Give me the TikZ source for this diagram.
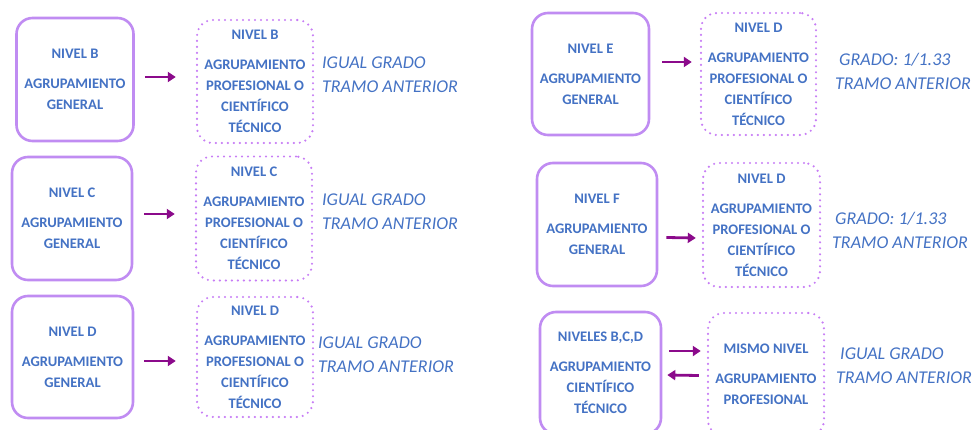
\documentclass[tikz,border=0pt]{standalone}
\usepackage{fontspec}
\setmainfont{Carlito}
\usetikzlibrary{arrows.meta}
\definecolor{txtblue}{HTML}{4472C4}
\definecolor{boxpurple}{HTML}{C08CF2}
\definecolor{dotpurple}{HTML}{C77DF5}
\definecolor{arrpurple}{HTML}{8B0A8B}
\tikzset{
  srcbox/.style={draw=boxpurple, line width=2.6pt, rounded corners=16pt, fill=white,
    align=center, text=txtblue, font=\bfseries\fontsize{14.6}{21}\selectfont, inner sep=0pt},
  dstbox/.style={draw=dotpurple, line width=2.4pt, dash pattern=on 0pt off 6pt, line cap=round,
    rounded corners=16pt, align=center, text=txtblue, font=\bfseries\fontsize{14.6}{21}\selectfont, inner sep=0pt},
  note/.style={anchor=west, align=left, text=txtblue, font=\itshape\fontsize{18}{24}\selectfont, inner sep=0pt},
  arr/.style={draw=arrpurple, line width=2.8pt, -{Triangle[length=8pt,width=10pt]}},
}
\begin{document}
\begin{tikzpicture}[x=1pt,y=-1pt]
\useasboundingbox (0,0) rectangle (973,430);
\clip (0,0) rectangle (973,430);
% left column
\node[srcbox, minimum width=117pt, minimum height=123pt] (l1s) at (75,79.5) {NIVEL B\\[9pt]AGRUPAMIENTO\\GENERAL};
\node[dstbox, minimum width=116pt, minimum height=123pt] (l1d) at (255,81.5) {NIVEL B\\[9pt]AGRUPAMIENTO\\PROFESIONAL O\\CIENTÍFICO\\TÉCNICO};
\node[note] (l1n) at (322,75) {IGUAL GRADO\\TRAMO ANTERIOR};
\draw[arr] ([xshift=10pt,yshift=2.5pt]l1s.east) -- ([xshift=-20pt,yshift=4.5pt]l1d.west);

\node[srcbox, minimum width=120pt, minimum height=123pt] (l2s) at (72,218.5) {NIVEL C\\[9pt]AGRUPAMIENTO\\GENERAL};
\node[dstbox, minimum width=116pt, minimum height=124pt] (l2d) at (254,218.5) {NIVEL C\\[9pt]AGRUPAMIENTO\\PROFESIONAL O\\CIENTÍFICO\\TÉCNICO};
\node[note] (l2n) at (322,212) {IGUAL GRADO\\TRAMO ANTERIOR};
\draw[arr] ([xshift=11pt,yshift=4.5pt]l2s.east) -- ([xshift=-20pt,yshift=4.5pt]l2d.west);

\node[srcbox, minimum width=121pt, minimum height=122pt] (l3s) at (72.5,357) {NIVEL D\\[9pt]AGRUPAMIENTO\\GENERAL};
\node[dstbox, minimum width=116pt, minimum height=120pt] (l3d) at (255,357) {NIVEL D\\[9pt]AGRUPAMIENTO\\PROFESIONAL O\\CIENTÍFICO\\TÉCNICO};
\node[note] (l3n) at (318,355) {IGUAL GRADO\\TRAMO ANTERIOR};
\draw[arr] ([xshift=10pt,yshift=-4pt]l3s.east) -- ([xshift=-20pt,yshift=-4pt]l3d.west);

% right column
\node[srcbox, minimum width=117pt, minimum height=122pt] (r1s) at (590.5,74) {NIVEL E\\[9pt]AGRUPAMIENTO\\GENERAL};
\node[dstbox, minimum width=115pt, minimum height=122pt] (r1d) at (758.5,74) {NIVEL D\\[9pt]AGRUPAMIENTO\\PROFESIONAL O\\CIENTÍFICO\\TÉCNICO};
\node[note] (r1n) at (835,71) {\hspace*{4pt}GRADO: 1/1.33\\TRAMO ANTERIOR};
\draw[arr] ([xshift=12pt,yshift=12pt]r1s.east) -- ([xshift=-8pt,yshift=12pt]r1d.west);

\node[srcbox, minimum width=120pt, minimum height=123pt] (r2s) at (597,224.5) {NIVEL F\\[9pt]AGRUPAMIENTO\\GENERAL};
\node[dstbox, minimum width=117pt, minimum height=124pt] (r2d) at (761.5,225) {NIVEL D\\[9pt]AGRUPAMIENTO\\PROFESIONAL O\\CIENTÍFICO\\TÉCNICO};
\node[note] (r2n) at (832,230) {\hspace*{3pt}GRADO: 1/1.33\\TRAMO ANTERIOR};
\draw[arr] ([xshift=8pt,yshift=-13pt]r2s.east) -- ([xshift=-6pt,yshift=-13pt]r2d.west);

\node[srcbox, minimum width=121pt, minimum height=122pt] (r3s) at (600.5,373) {NIVELES B,C,D\\[9pt]AGRUPAMIENTO\\CIENTÍFICO\\TÉCNICO};
\node[dstbox, minimum width=116pt, minimum height=123pt] (r3d) at (766,374.5) {MISMO NIVEL\\[9pt]AGRUPAMIENTO\\PROFESIONAL};
\node[note] (r3n) at (836,366) {\hspace*{4pt}IGUAL GRADO\\TRAMO ANTERIOR};
\draw[arr] ([xshift=7pt,yshift=22pt]r3s.east) -- ([xshift=-6pt,yshift=23.5pt]r3d.west);
\draw[arr] ([xshift=-8pt,yshift=-1pt]r3d.west) -- ([xshift=5pt,yshift=-2pt]r3s.east);
\end{tikzpicture}
\end{document}
